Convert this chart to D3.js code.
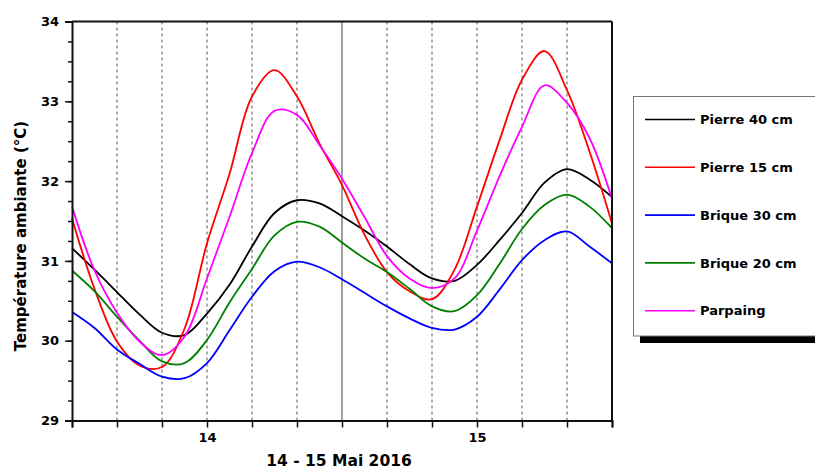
<!DOCTYPE html>
<html>
<head>
<meta charset="utf-8">
<script src="https://cdn.jsdelivr.net/npm/d3@7"></script>
<style>
  html, body { margin: 0; padding: 0; background: #fff; }
  svg { display: block; }
  text { font-family: "DejaVu Sans", sans-serif; font-weight: bold; fill: #000; }
</style>
</head>
<body>
<svg id="chart" width="815" height="471"></svg>
<script>
// Hours relative to 14 May 2016 00:00, sampled every 2 h
const hours = [-12,-10,-8,-6,-4,-2,0,2,4,6,8,10,12,14,16,18,20,22,24,26,28,30,32,34,36];

// Ambient temperature (°C) per wall type
const pierre40 = [31.16,30.89,30.61,30.33,30.10,30.07,30.34,30.70,31.18,31.60,31.76,31.72,31.56,31.38,31.18,30.96,30.78,30.75,30.95,31.26,31.60,31.98,32.15,32.02,31.80];
const pierre15 = [31.53,30.65,29.99,29.69,29.67,30.15,31.22,32.09,33.06,33.39,33.06,32.47,31.95,31.33,30.86,30.62,30.52,30.89,31.68,32.51,33.27,33.63,33.14,32.37,31.47];
const brique30 = [30.36,30.16,29.89,29.71,29.55,29.53,29.72,30.13,30.55,30.87,30.99,30.92,30.77,30.60,30.43,30.28,30.16,30.14,30.30,30.64,31.01,31.26,31.37,31.18,30.97];
const brique20 = [30.88,30.62,30.30,30.00,29.74,29.72,30.01,30.48,30.90,31.32,31.49,31.43,31.23,31.03,30.86,30.65,30.43,30.37,30.57,30.96,31.40,31.70,31.83,31.68,31.41];
const parpaing = [31.68,30.88,30.35,29.99,29.82,30.05,30.78,31.55,32.35,32.88,32.83,32.45,32.03,31.55,31.06,30.78,30.66,30.78,31.38,32.06,32.68,33.20,32.98,32.54,31.78];

const seriesNames = ["Pierre 40 cm", "Pierre 15 cm", "Brique 30 cm", "Brique 20 cm", "Parpaing"];
const seriesValues = [pierre40, pierre15, brique30, brique20, parpaing];
const seriesColors = ["#000000", "#ff0000", "#0000ff", "#008000", "#ff00ff"];

// Axis ticks
const xTickHours = [-12,-8,-4,0,4,8,12,16,20,24,28,32,36];
const xTickLabels = { 0: "14", 24: "15" };
const yMajorTicks = [29,30,31,32,33,34];
const yMinorTicks = d3.range(29, 34.001, 0.25);

const yTitle = "Température ambiante (°C)";
const xTitle = "14 - 15 Mai 2016";

const svg = d3.select("#chart");
const plot = { left: 72, right: 612, top: 21.5, bottom: 420.5 };

const x = d3.scaleLinear().domain([-12, 36]).range([plot.left, plot.right]);
const y = d3.scaleLinear().domain([29, 34]).range([plot.bottom, plot.top]);

// Vertical grid: dashed, with a solid line at midday of the 14th
const grid = svg.append("g");
grid.selectAll("line")
  .data(xTickHours.filter(h => h > -12 && h < 36))
  .join("line")
  .attr("x1", d => x(d)).attr("x2", d => x(d))
  .attr("y1", plot.top).attr("y2", plot.bottom)
  .attr("stroke", d => d === 12 ? "#888" : "#555")
  .attr("stroke-width", d => d === 12 ? 1.6 : 1)
  .attr("stroke-dasharray", d => d === 12 ? null : "3,3");

// Curves
const line = d3.line()
  .x((d, i) => x(hours[i]))
  .y(d => y(d))
  .curve(d3.curveCatmullRom.alpha(0.5));

svg.append("g").selectAll("path")
  .data(seriesValues)
  .join("path")
  .attr("d", d => line(d))
  .attr("fill", "none")
  .attr("stroke", (d, i) => seriesColors[i])
  .attr("stroke-width", 1.8);

// Frame (top and right)
svg.append("line")
  .attr("x1", plot.left).attr("x2", plot.right)
  .attr("y1", plot.top).attr("y2", plot.top)
  .attr("stroke", "#111").attr("stroke-width", 2);
svg.append("line")
  .attr("x1", plot.right).attr("x2", plot.right)
  .attr("y1", plot.top).attr("y2", plot.bottom)
  .attr("stroke", "#111").attr("stroke-width", 2);

// X axis
const xAxis = d3.axisBottom(x)
  .tickValues(xTickHours)
  .tickSize(7)
  .tickFormat(d => xTickLabels[d] || "");
const gx = svg.append("g")
  .attr("transform", `translate(0,${plot.bottom})`)
  .call(xAxis);
gx.select(".domain").attr("stroke", "#111").attr("stroke-width", 2);
gx.selectAll(".tick line").attr("stroke", "#111").attr("stroke-width", 1.5);
gx.selectAll(".tick text")
  .attr("font-family", "DejaVu Sans").attr("font-weight", "bold")
  .attr("font-size", 13).attr("dy", "1.0em").attr("y", 8);

// Y axis: minor ticks then labelled major ticks
const gyMinor = svg.append("g")
  .attr("transform", `translate(${plot.left},0)`)
  .call(d3.axisLeft(y).tickValues(yMinorTicks).tickSize(4).tickFormat(""));
gyMinor.select(".domain").remove();
gyMinor.selectAll(".tick line").attr("stroke", "#111").attr("stroke-width", 1.5);

const gy = svg.append("g")
  .attr("transform", `translate(${plot.left},0)`)
  .call(d3.axisLeft(y).tickValues(yMajorTicks).tickSize(7).tickPadding(6).tickFormat(d3.format("d")));
gy.select(".domain").attr("stroke", "#111").attr("stroke-width", 2);
gy.selectAll(".tick line").attr("stroke", "#111").attr("stroke-width", 1.5);
gy.selectAll(".tick text")
  .attr("font-family", "DejaVu Sans").attr("font-weight", "bold")
  .attr("font-size", 13);

// Axis titles
svg.append("text")
  .attr("transform", "translate(26,236) rotate(-90)")
  .attr("text-anchor", "middle")
  .attr("font-size", 15)
  .text(yTitle);

svg.append("text")
  .attr("x", 339).attr("y", 466)
  .attr("text-anchor", "middle")
  .attr("font-size", 15.5)
  .text(xTitle);

// Legend with drop shadow
const legend = svg.append("g");
legend.append("rect")
  .attr("x", 640).attr("y", 104).attr("width", 200).attr("height", 239)
  .attr("fill", "#000");
legend.append("rect")
  .attr("x", 633.5).attr("y", 96.5).attr("width", 200).attr("height", 239.5)
  .attr("fill", "#fff").attr("stroke", "#777").attr("stroke-width", 1);

const rows = legend.selectAll("g.row")
  .data(seriesNames)
  .join("g")
  .attr("class", "row")
  .attr("transform", (d, i) => `translate(0,${119.5 + i * 47.8})`);
rows.append("line")
  .attr("x1", 645).attr("x2", 695)
  .attr("y1", 0).attr("y2", 0)
  .attr("stroke", (d, i) => seriesColors[i])
  .attr("stroke-width", 1.6);
rows.append("text")
  .attr("x", 700).attr("y", 0).attr("dy", "0.36em")
  .attr("font-size", 13)
  .text(d => d);
</script>
</body>
</html>
